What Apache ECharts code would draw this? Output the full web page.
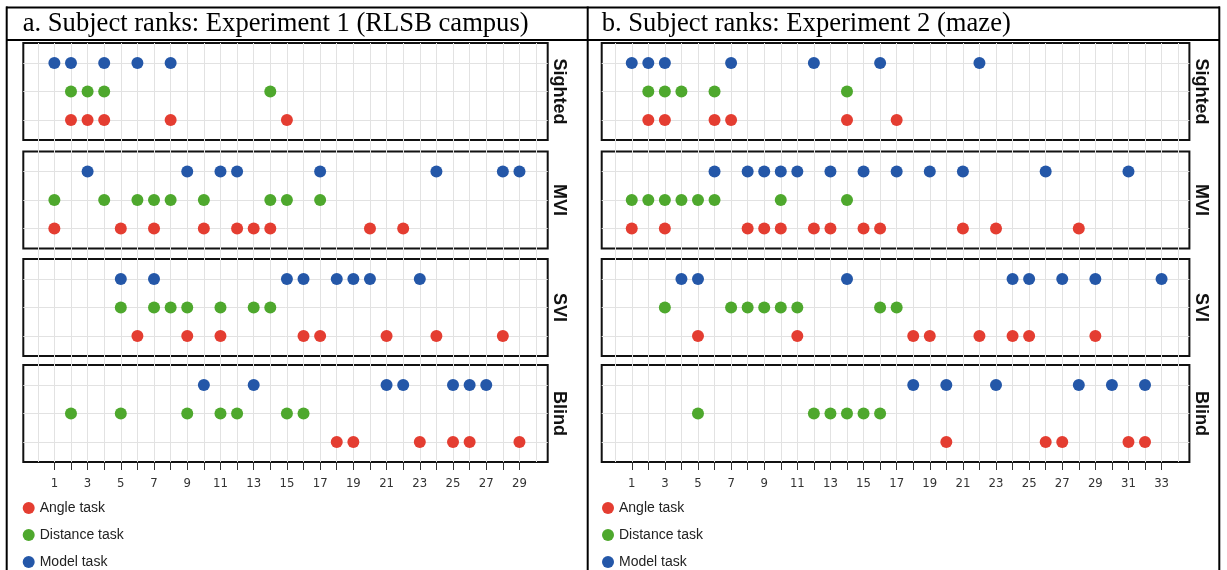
<!DOCTYPE html>
<html><head><meta charset="utf-8">
<script src="https://cdn.jsdelivr.net/npm/echarts@6/dist/echarts.min.js"></script>
<style>html,body{margin:0;padding:0;background:#fff}#c{width:1227px;height:570px}</style>
</head><body><div id="c"></div>
<script>
// ---------- data ----------
const tasks = ['Angle task', 'Distance task', 'Model task'];
const groups = ['Sighted', 'MVI', 'SVI', 'Blind'];
const panelTitles = ['a. Subject ranks: Experiment 1 (RLSB campus)', 'b. Subject ranks: Experiment 2 (maze)'];

const exp1Ticks = [1,2,3,4,5,6,7,8,9,10,11,12,13,14,15,16,17,18,19,20,21,22,23,24,25,26,27,28,29];
const exp1TickLabels = [1,3,5,7,9,11,13,15,17,19,21,23,25,27,29];
const exp1GridLines = [0,1,2,3,4,5,6,7,8,9,10,11,12,13,14,15,16,17,18,19,20,21,22,23,24,25,26,27,28,29,30];
const exp2Ticks = [1,2,3,4,5,6,7,8,9,10,11,12,13,14,15,16,17,18,19,20,21,22,23,24,25,26,27,28,29,30,31,32,33];
const exp2TickLabels = [1,3,5,7,9,11,13,15,17,19,21,23,25,27,29,31,33];
const exp2GridLines = [0,1,2,3,4,5,6,7,8,9,10,11,12,13,14,15,16,17,18,19,20,21,22,23,24,25,26,27,28,29,30,31,32,33,34];

// Experiment 1 (RLSB campus): ranks per group and task
const e1SightedAngle = [2,3,4,8,15];
const e1SightedDistance = [2,3,4,14];
const e1SightedModel = [1,2,4,6,8];
const e1MviAngle = [1,5,7,10,12,13,14,20,22];
const e1MviDistance = [1,4,6,7,8,10,14,15,17];
const e1MviModel = [3,9,11,12,17,24,28,29];
const e1SviAngle = [6,9,11,16,17,21,24,28];
const e1SviDistance = [5,7,8,9,11,13,14];
const e1SviModel = [5,7,15,16,18,19,20,23];
const e1BlindAngle = [18,19,23,25,26,29];
const e1BlindDistance = [2,5,9,11,12,15,16];
const e1BlindModel = [10,13,21,22,25,26,27];

// Experiment 2 (maze)
const e2SightedAngle = [2,3,6,7,14,17];
const e2SightedDistance = [2,3,4,6,14];
const e2SightedModel = [1,2,3,7,12,16,22];
const e2MviAngle = [1,3,8,9,10,12,13,15,16,21,23,28];
const e2MviDistance = [1,2,3,4,5,6,10,14];
const e2MviModel = [6,8,9,10,11,13,15,17,19,21,26,31];
const e2SviAngle = [5,11,18,19,22,24,25,29];
const e2SviDistance = [3,7,8,9,10,11,16,17];
const e2SviModel = [4,5,14,24,25,27,29,33];
const e2BlindAngle = [20,26,27,31,32];
const e2BlindDistance = [5,12,13,14,15,16];
const e2BlindModel = [18,20,23,28,30,32];

const exp1Data = [
  [e1SightedAngle, e1SightedDistance, e1SightedModel],
  [e1MviAngle, e1MviDistance, e1MviModel],
  [e1SviAngle, e1SviDistance, e1SviModel],
  [e1BlindAngle, e1BlindDistance, e1BlindModel]
];
const exp2Data = [
  [e2SightedAngle, e2SightedDistance, e2SightedModel],
  [e2MviAngle, e2MviDistance, e2MviModel],
  [e2SviAngle, e2SviDistance, e2SviModel],
  [e2BlindAngle, e2BlindDistance, e2BlindModel]
];

// ---------- layout / style ----------
const taskColors = ['#e43d31', '#4ea82d', '#2457a8'];
const gridColor = '#e2e2e2';
const panels = [
  { data: exp1Data, ticks: exp1Ticks, labels: exp1TickLabels, lines: exp1GridLines,
    left: 23.3, width: 524.4, min: -0.87, max: 30.7, stripX: 558.5, legendLeft: 22.7, titleX: 22.7 },
  { data: exp2Data, ticks: exp2Ticks, labels: exp2TickLabels, lines: exp2GridLines,
    left: 601.7, width: 587.7, min: -0.815, max: 34.68, stripX: 1201, legendLeft: 602, titleX: 601.7 }
];
const facetTops = [43, 151.5, 259, 365];
const facetH = 97;

const grid = [], xAxis = [], yAxis = [], series = [], graphic = [];

panels.forEach((p, pi) => {
  // background grid carrying the vertical grid lines and the rank axis
  grid.push({ left: p.left, top: 43, width: p.width, height: 419, show: false });
  const bg = grid.length - 1;
  xAxis.push({
    gridIndex: bg, type: 'value', position: 'bottom', min: p.min, max: p.max,
    axisLine: { show: false },
    axisTick: { show: true, customValues: p.ticks, length: 8, lineStyle: { color: '#333', width: 1 } },
    axisLabel: { show: true, customValues: p.labels, margin: 15,
      fontFamily: '"Liberation Sans Narrow", "DejaVu Sans Condensed", sans-serif', fontSize: 13, color: '#333' },
    splitLine: { show: false }
  });
  xAxis.push({
    gridIndex: bg, type: 'value', position: 'top', min: p.min, max: p.max,
    axisLine: { show: false }, axisLabel: { show: false },
    axisTick: { show: false, customValues: p.lines },
    splitLine: { show: true, lineStyle: { color: gridColor, width: 1 } }
  });
  yAxis.push({ gridIndex: bg, type: 'value', show: false });

  groups.forEach((g, gi) => {
    grid.push({ left: p.left, top: facetTops[gi], width: p.width, height: facetH,
      show: true, borderColor: '#111', borderWidth: 2, backgroundColor: 'transparent' });
    const idx = grid.length - 1;
    xAxis.push({ gridIndex: idx, type: 'value', min: p.min, max: p.max, show: false });
    const yi = yAxis.length;
    yAxis.push({ gridIndex: idx, type: 'value', min: 0.3, max: 3.7,
      axisLine: { show: false }, axisLabel: { show: false },
      axisTick: { show: false, customValues: [1, 2, 3] },
      splitLine: { show: true, lineStyle: { color: gridColor, width: 1 } } });
    const xi = xAxis.length - 1;
    tasks.forEach((t, ti) => {
      series.push({
        name: t, type: 'scatter', xAxisIndex: xi, yAxisIndex: yi,
        symbol: 'circle', symbolSize: 12, z: 3,
        itemStyle: { color: taskColors[ti], opacity: 1 },
        emphasis: { disabled: true },
        data: p.data[gi][ti].map(r => [r, ti + 1])
      });
    });
    graphic.push({
      type: 'text', x: p.stripX, y: facetTops[gi] + facetH / 2, rotation: -Math.PI / 2,
      style: { text: g, textAlign: 'center', textVerticalAlign: 'middle',
        font: 'bold 18px "Liberation Sans", Arial, sans-serif', fill: '#111' }
    });
  });

  graphic.push({
    type: 'text', x: p.titleX, y: 24.5,
    style: { text: panelTitles[pi], textAlign: 'left', textVerticalAlign: 'middle',
      font: '26.6px "Liberation Serif", "Times New Roman", serif', fill: '#000' }
  });
});

// table rules
const rules = [
  [6, 7.5, 1220, 7.5], [6, 40, 1220, 40],
  [6.7, 6.5, 6.7, 570], [587.7, 6.5, 587.7, 570], [1219.3, 6.5, 1219.3, 570]
];
rules.forEach(r => graphic.push({
  type: 'line', shape: { x1: r[0], y1: r[1], x2: r[2], y2: r[3] },
  style: { stroke: '#000', lineWidth: 2 }, silent: true
}));

const legends = panels.map(p => ({
  data: tasks, orient: 'vertical', left: p.legendLeft, top: 501, padding: 0,
  height: 80,
  icon: 'circle', itemWidth: 12, itemHeight: 12, itemGap: 13,
  textStyle: { fontFamily: '"Liberation Sans", Arial, sans-serif', fontSize: 14, color: '#222', lineHeight: 14 }
}));

const chart = echarts.init(document.getElementById('c'), null, { renderer: 'canvas' });
chart.setOption({
  animation: false,
  backgroundColor: '#fff',
  color: taskColors,
  legend: legends,
  grid, xAxis, yAxis, series, graphic
});
</script>
</body></html>
